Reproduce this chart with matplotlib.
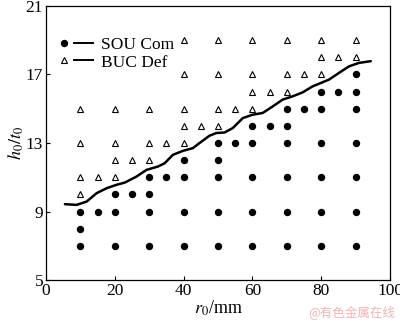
import matplotlib
matplotlib.use("Agg")
import matplotlib.pyplot as plt
from matplotlib.lines import Line2D
from matplotlib.legend_handler import HandlerTuple

plt.rcParams['font.family'] = ['Liberation Serif', 'DejaVu Serif']
plt.rcParams['mathtext.fontset'] = 'stix'

# SOU Com (filled dots)
sou_x = [10, 10, 10, 15, 20, 20, 20, 25, 30, 30, 30, 30, 35,
         40, 40, 40, 40, 50, 50, 50, 50, 50, 55,
         60, 60, 60, 60, 60, 65,
         70, 70, 70, 70, 70, 70, 75,
         80, 80, 80, 80, 80, 80, 85,
         90, 90, 90, 90, 90, 90, 90]
sou_y = [7, 8, 9, 9, 7, 9, 10, 10, 7, 9, 10, 11, 11,
         7, 9, 11, 12, 7, 9, 11, 12, 13, 13,
         7, 9, 11, 13, 14, 14,
         7, 9, 11, 13, 14, 15, 15,
         7, 9, 11, 13, 15, 16, 16,
         7, 9, 11, 13, 15, 16, 17]

# BUC Def (open triangles)
buc_x = [10, 10, 10, 10, 15, 20, 20, 20, 20, 25, 30, 30, 30, 35,
         40, 40, 40, 40, 40, 45, 50, 50, 50, 50, 55,
         60, 60, 60, 60, 65, 70, 70, 70, 75,
         80, 80, 80, 85, 90, 90]
buc_y = [10, 11, 13, 15, 11, 11, 12, 13, 15, 12, 12, 13, 15, 13,
         13, 14, 15, 17, 19, 14, 14, 15, 17, 19, 15,
         15, 16, 17, 19, 16, 16, 17, 19, 17,
         17, 18, 19, 18, 18, 19]

# Boundary curve
curve_x = [5.5, 8.9, 11.8, 14.7, 17.6, 20.5, 22.9, 26.3, 29.2, 32.6, 34.5,
           36.9, 39.8, 42.7, 44.6, 47.5, 49.5, 51.9, 54.3, 57.2, 60.1, 63.0,
           65.9, 68.8, 71.7, 74.6, 77.5, 80.4, 82.3, 85.2, 88.1, 91.0, 94.4]
curve_y = [9.43, 9.39, 9.58, 10.07, 10.36, 10.56, 10.69, 11.04, 11.43, 11.63, 11.82,
           12.31, 12.54, 12.70, 12.99, 13.42, 13.58, 13.61, 13.87, 14.45, 14.65, 14.75,
           15.13, 15.53, 15.72, 15.95, 16.30, 16.54, 16.70, 17.09, 17.47, 17.67, 17.77]

xticks = [0, 20, 40, 60, 80, 100]
yticks = [5, 9, 13, 17, 21]

fig = plt.figure(figsize=(4.0, 3.22), dpi=100)
ax = fig.add_axes([0.115, 0.130, 0.86, 0.852])

ax.plot(curve_x, curve_y, color='black', lw=1.8, solid_capstyle='round',
        solid_joinstyle='round')
ax.plot(sou_x, sou_y, linestyle='none', marker='o', markersize=4.3,
        markerfacecolor='black', markeredgecolor='black')
ax.plot(buc_x, buc_y, linestyle='none', marker='^', markersize=4.0,
        markerfacecolor='white', markeredgecolor='black', markeredgewidth=0.8)

ax.set_xlim(0, 100)
ax.set_ylim(5, 21)
ax.set_xticks(xticks)
ax.set_yticks(yticks)
ax.tick_params(direction='in', length=3, width=0.8, labelsize=12.5, pad=2,
               top=False, right=False)
for s in ax.spines.values():
    s.set_linewidth(0.9)

ax.set_xlabel(r'$r_0$/mm', fontsize=13, labelpad=0)
ax.set_ylabel(r'$h_0/t_0$', fontsize=13, labelpad=0)

h1m = Line2D([], [], linestyle='none', marker='o', markersize=4.3,
             markerfacecolor='black', markeredgecolor='black')
h2m = Line2D([], [], linestyle='none', marker='^', markersize=4.0,
             markerfacecolor='white', markeredgecolor='black', markeredgewidth=0.8)
hl = Line2D([], [], color='black', lw=1.4)
ax.legend([(h1m, hl), (h2m, hl)], ['SOU Com', 'BUC Def'],
          handler_map={tuple: HandlerTuple(ndivide=None, pad=0.0)},
          loc='upper left', bbox_to_anchor=(0.025, 0.888), frameon=False,
          fontsize=12.5, handlelength=2.2, handletextpad=0.45,
          labelspacing=0.1, borderaxespad=0.0, borderpad=0.0)

fig.text(0.988, 0.03, '@有色金属在线', fontsize=9, color='#f0b4b4',
         ha='right', va='center', family=['Noto Sans CJK SC', 'DejaVu Sans'])

fig.savefig('out.png', dpi=100)
